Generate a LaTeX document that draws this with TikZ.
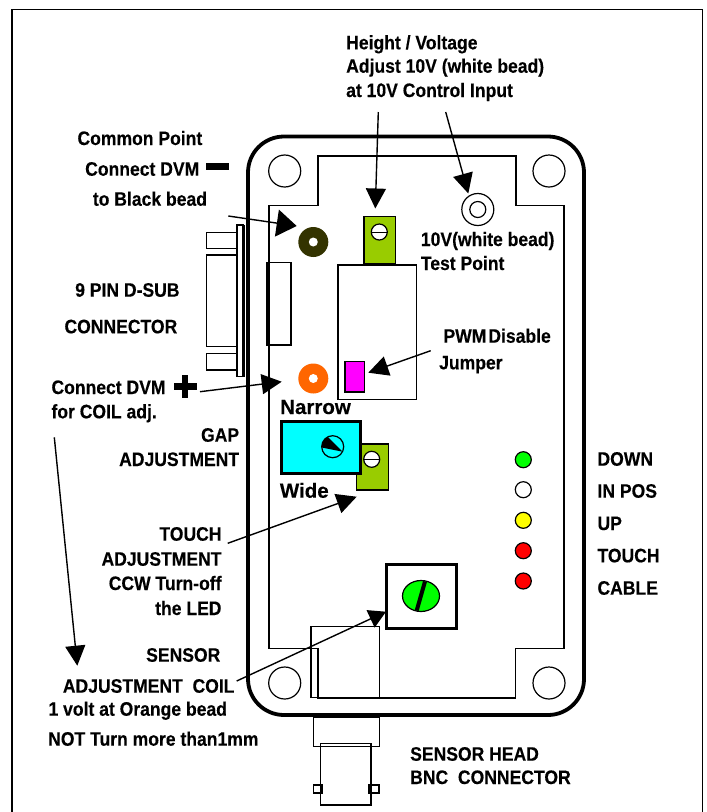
\documentclass[tikz,border=0pt]{standalone}
\usepackage{fontspec}
\setmainfont{Liberation Sans}[FakeStretch=0.9,FakeBold=0.25]
\newfontfamily\widelabel{Liberation Sans}[FakeBold=0.2]
\usetikzlibrary{arrows.meta}
\definecolor{trimgreen}{HTML}{99CC00}
\definecolor{beadblack}{HTML}{333300}
\definecolor{beadorange}{HTML}{FF6600}
\definecolor{ledgreen}{HTML}{00FF00}
\definecolor{gapcyan}{HTML}{00FFFF}
\definecolor{jumpermagenta}{HTML}{FF00FF}
\definecolor{ledred}{HTML}{FF0000}
\definecolor{ledyellow}{HTML}{FFFF00}
\tikzset{
  lbl/.style={anchor=base west,inner sep=0pt,font=\fontsize{19.5}{21}\selectfont\bfseries},
  lblr/.style={anchor=base east,inner sep=0pt,font=\fontsize{19.5}{21}\selectfont\bfseries},
  lblw/.style={anchor=base west,inner sep=0pt,font=\widelabel\fontsize{20.5}{22}\selectfont\bfseries},
  thin part/.style={draw=black,line width=1.2pt},
  call/.style={draw=black,line width=1.4pt,-{Triangle[length=20pt,width=20pt]},shorten >=0pt},
  led/.style={draw=black,line width=1.2pt},
}
\begin{document}
\begin{tikzpicture}[x=1pt,y=-1pt]
\useasboundingbox (0,0) rectangle (707,812);
% frame (open at the bottom edge)
\draw[line width=1.8pt] (12,812) -- (12,9.5) -- (702.5,9.5) -- (702.5,812);
% enclosure
\draw[line width=3.8pt,rounded corners=36pt] (248,136.5) rectangle (584,715);
% board outline
\draw[thin part] (318,156) -- (516,156) -- (516,205.5) -- (564,205.5) -- (564,648.5) -- (515.7,648.5) -- (515.7,698) -- (318,698) -- (318,648.5) -- (269,648.5) -- (269,205.5) -- (318,205.5) -- cycle;
% mounting holes
\node[thin part,circle,minimum size=32pt,inner sep=0pt] (holeA) at (284.7,171) {};
\node[thin part,circle,minimum size=32pt,inner sep=0pt] (holeB) at (549,171) {};
\node[thin part,circle,minimum size=32pt,inner sep=0pt] (holeC) at (284.7,683) {};
\node[thin part,circle,minimum size=32pt,inner sep=0pt] (holeD) at (549,683) {};
% D-sub
\draw[thin part] (206.5,232.7) rectangle (237,248.3);
\draw[thin part] (206.5,255) rectangle (237,346.7);
\draw[thin part] (206.5,353.3) rectangle (237,370);
\draw[thin part] (237,225) rectangle (243,376.7);
\fill (241.5,225) rectangle (244.5,376.7);
\draw[thin part] (267,262.7) rectangle (291,345);
% main block, jumper
\draw[thin part] (338,265) rectangle (416.7,399.5);
\draw[thin part,fill=jumpermagenta] (345,361.7) rectangle (364.3,392);
% top trimmer
\draw[thin part,fill=trimgreen] (364,216.7) rectangle (395.7,263.5);
\draw[thin part,fill=white] (379.3,232) circle[radius=8];
\draw[line width=1pt] (371.3,232) -- (387.3,232);
% white test point
\node[thin part,circle,minimum size=32pt,inner sep=0pt] (tpOuter) at (477.8,209.5) {};
\node[thin part,circle,minimum size=16pt,inner sep=0pt] (tpInner) at (477.8,209.5) {};
% beads
\fill[beadblack] (313.3,242) circle[radius=15];
\fill[white] (313.3,242) circle[radius=4.5];
\fill[beadorange] (313.3,378.5) circle[radius=15];
\fill[white] (313.3,378.5) circle[radius=4.5];
% second trimmer
\draw[thin part,fill=trimgreen] (356.7,444) rectangle (388.3,490);
\draw[thin part,fill=white] (371.7,459.3) circle[radius=8];
\draw[line width=1pt] (363.7,459.3) -- (379.7,459.3);
% gap adjustment
\draw[line width=3pt,fill=gapcyan] (281,421.7) rectangle (360.5,473.3);
\draw[line width=1.2pt,fill=gapcyan] (332.7,446.7) circle[radius=11];
\fill (342.7,451.7) -- (321.8,447.5) arc[start angle=176,end angle=243,radius=11] -- cycle;
% LEDs
\node[led,circle,fill=ledgreen,minimum size=16pt,inner sep=0pt] (ledA) at (523.3,459.7) {};
\node[led,circle,fill=white,minimum size=16pt,inner sep=0pt] (ledB) at (523.3,489.7) {};
\node[led,circle,fill=ledyellow,minimum size=16pt,inner sep=0pt] (ledC) at (523.3,520.3) {};
\node[led,circle,fill=ledred,minimum size=16pt,inner sep=0pt] (ledD) at (523.3,550.7) {};
\node[led,circle,fill=ledred,minimum size=16pt,inner sep=0pt] (ledE) at (523.3,581) {};
% sensor adjust
\draw[thin part] (311,626.7) rectangle (379.3,697.7);
\draw[line width=3pt] (386,564.5) rectangle (456.5,628.3);
\draw[line width=1.2pt,fill=ledgreen] (421,596) ellipse[x radius=18.5,y radius=15.5];
\draw[line width=4pt] (425,581.5) -- (416.7,610.5);
% BNC
\draw[thin part] (313.3,717) rectangle (379.3,746.7);
\draw[thin part] (313.3,785) rectangle (322,793);
\draw[thin part] (369,785) rectangle (379,793);
\draw[thin part] (320.7,743.5) rectangle (371,805);
% minus / plus
\fill (206.3,163.3) rectangle (229,170);
\fill (174.3,383.3) rectangle (197,390);
\fill (182.3,375) rectangle (188.3,397.7);
% labels
\node[lbl] (t1) at (346,49.3) {Height / Voltage};
\node[lbl] (t2) at (346,72.7) {Adjust 10V (white bead)};
\node[lbl] (t3) at (346,97) {at 10V Control Input};
\node[lbl] (t4) at (77.3,145) {Common Point};
\node[lbl] (t5) at (85,175.7) {Connect DVM};
\node[lbl] (t6) at (92.7,205.7) {to Black bead};
\node[lbl] (t7) at (75,296.7) {9 PIN D-SUB};
\node[lbl] (t8) at (64.3,333.3) {CONNECTOR};
\node[lbl] (t9) at (51.3,394) {Connect DVM};
\node[lbl] (t10) at (51.3,418.3) {for COIL adj.};
\node[lblw] (t11) at (280,414) {Narrow};
\node[lblw] (t12) at (279.7,497.7) {Wide};
\node[lblr] (t13) at (239.3,441.7) {GAP};
\node[lblr] (t14) at (239.3,466) {ADJUSTMENT};
\node[lblr] (t15) at (221.7,540.7) {TOUCH};
\node[lblr] (t16) at (221.7,565.7) {ADJUSTMENT};
\node[lblr] (t17) at (221.7,590) {CCW Turn-off};
\node[lblr] (t18) at (221.7,615) {the LED};
\node[lbl] (t19) at (146,661.7) {SENSOR};
\node[lbl] (t20) at (62.7,692.7) {ADJUSTMENT\ \ COIL};
\node[lbl] (t21) at (48.3,715.7) {1 volt at Orange bead};
\node[lbl] (t22) at (48,745.7) {NOT Turn more than1mm};
\node[lbl] (t23) at (420.7,246) {10V(white bead)};
\node[lbl] (t24) at (420.7,270) {Test Point};
\node[lbl] (t25) at (443.3,342.7) {PWM\kern2pt Disable};
\node[lbl] (t26) at (439,369.3) {Jumper};
\node[lbl] (t27) at (597.3,465.7) {DOWN};
\node[lbl] (t28) at (597.3,497.7) {IN POS};
\node[lbl] (t29) at (597.3,530) {UP};
\node[lbl] (t30) at (597.3,562.3) {TOUCH};
\node[lbl] (t31) at (597.3,594.7) {CABLE};
\node[lbl] (t32) at (410,760.7) {SENSOR HEAD};
\node[lbl] (t33) at (410,784) {BNC\ \ CONNECTOR};
% connector ends
\coordinate (a1s) at (378.3,112);   \coordinate (a1e) at (375.3,208.5);
\coordinate (a2s) at (445.7,112);   \coordinate (a2e) at (468.3,193.5);
\coordinate (a3s) at (228.3,216);   \coordinate (a3e) at (296.7,226);
\coordinate (a4s) at (200,391.7);   \coordinate (a4e) at (281.7,381.7);
\coordinate (a5s) at (430.7,350.7); \coordinate (a5e) at (368.3,372.7);
\coordinate (a6s) at (227.7,543.3); \coordinate (a6e) at (356.7,496.7);
\coordinate (a7s) at (54.3,437.3);  \coordinate (a7e) at (77.3,665.7);
\coordinate (a8s) at (236.7,681);   \coordinate (a8e) at (386,611.7);
\foreach \n in {1,2,4,5,6,7} {\draw[call] (a\n s) -- (a\n e);}
\draw[call,-{Triangle[length=20pt,width=27pt]}] (a3s) -- (a3e);
\draw[call,-{Triangle[length=17pt,width=19pt]}] (a8s) -- (a8e);
\end{tikzpicture}
\end{document}
